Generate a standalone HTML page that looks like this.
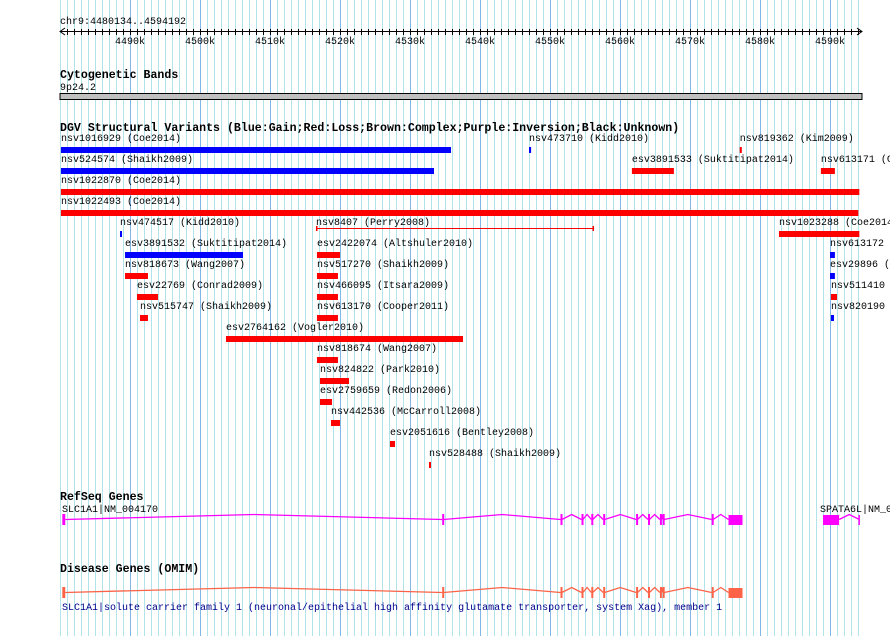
<!DOCTYPE html>
<html><head><meta charset="utf-8"><style>
html,body{margin:0;padding:0;background:#fff;width:890px;height:636px;overflow:hidden}
svg{display:block}
text{font-family:"Liberation Mono",monospace;font-size:10px;fill:#000}
.ttl{font-weight:bold;font-size:11.6px}
</style></head><body>
<svg id="c" width="890" height="636" xmlns="http://www.w3.org/2000/svg"></svg>
<script>
const viewStart = 4480.134, viewEnd = 4594.192;
const tickLabels = ["4490k","4500k","4510k","4520k","4530k","4540k","4550k","4560k","4570k","4580k","4590k"];
const tickValues = [4490,4500,4510,4520,4530,4540,4550,4560,4570,4580,4590];
const svNames = ["nsv1016929","nsv473710","nsv819362","nsv524574","esv3891533","nsv613171","nsv1022870","nsv1022493","nsv474517","nsv8407","nsv1023288","esv3891532","esv2422074","nsv613172","nsv818673","nsv517270","esv29896","esv22769","nsv466095","nsv511410","nsv515747","nsv613170","nsv820190","esv2764162","nsv818674","nsv824822","esv2759659","nsv442536","esv2051616","nsv528488"];
const svStudies = ["Coe2014","Kidd2010","Kim2009","Shaikh2009","Suktitipat2014","Cooper2011","Coe2014","Coe2014","Kidd2010","Perry2008","Coe2014","Suktitipat2014","Altshuler2010","Cooper2011","Wang2007","Shaikh2009","Conrad2009","Conrad2009","Itsara2009","Shaikh2009","Shaikh2009","Cooper2011","Wang2007","Vogler2010","Wang2007","Park2010","Redon2006","McCarroll2008","Bentley2008","Shaikh2009"];
const svStart = [4480.134,4547.0,4577.1,4480.134,4561.7,4588.7,4480.134,4480.134,4488.57,4516.57,4582.71,4489.29,4516.71,4590.0,4489.29,4516.71,4590.0,4491.0,4516.71,4590.14,4491.43,4516.71,4590.14,4503.71,4516.71,4517.14,4517.14,4518.71,4527.14,4532.71];
const svEnd = [4535.86,4547.3,4577.4,4533.43,4567.7,4590.7,4594.192,4594.05,4588.86-100,4556.29,4594.192,4506.14,4520.0,4590.7,4492.57,4519.71,4590.7,4494.0,4519.71,4591.0,4492.57,4519.71,4590.57,4537.57,4519.71,4521.29,4518.86,4520.0,4527.86,4533.0];
svEnd[8] = 4488.86;
const svType = ["gain","gain","loss","gain","loss","loss","loss","loss","gain","lossline","loss","gain","loss","gain","loss","loss","gain","loss","loss","loss","loss","loss","gain","loss","loss","loss","loss","loss","loss","loss"];
const svRow = [0,0,0,1,1,1,2,3,4,4,4,5,5,5,6,6,6,7,7,7,8,8,8,9,10,11,12,13,14,15];
const exonStarts = [4480.33,4534.6,4551.5,4554.5,4555.9,4557.6,4562.3,4564.0,4565.7,4566.1,4573.1,4575.5];
const exonEnds   = [4480.75,4534.8,4551.7,4554.7,4556.1,4557.8,4562.5,4564.2,4565.9,4566.3,4573.3,4577.5];
const gene2Starts = [4589.0];
const gene2Ends = [4591.3];
const gene2End = 4594.2;

const X = kb => 130 + (kb - 4490) * 7;
const svg = document.getElementById('c');
const NS = "http://www.w3.org/2000/svg";
function mk(tag, attrs, parent){const e=document.createElementNS(NS,tag);for(const k in attrs)e.setAttribute(k,attrs[k]);(parent||svg).appendChild(e);return e;}
function txt(s,x,y,cls,fill){const t=mk('text',{x:x,y:y});if(cls)t.setAttribute('class',cls);if(fill)t.setAttribute('fill',fill),t.style.fill=fill;t.textContent=s;return t;}

// grid
const grid = mk('g',{});


for(let k=Math.ceil(viewStart); k<=Math.floor(viewEnd); k++){
  const major = k%10===0;
  const l = mk('line',{x1:X(k)+0.5,x2:X(k)+0.5,y1:0,y2:636,stroke:major?'#7fb8e6':'#b0e4ea','stroke-width':1},grid);
  
  
}
mk('line',{x1:60.5,x2:60.5,y1:0,y2:636,stroke:'#b0e4ea'},grid);

// ruler
const rg = mk('g',{});


const pos = txt('chr9:4480134..4594192',60,24);


mk('line',{x1:60,x2:862,y1:31.5,y2:31.5,stroke:'#000'},rg);
mk('polyline',{points:'65,28 60,31.5 65,35',fill:'none',stroke:'#000'},rg);
mk('polyline',{points:'857,28 862,31.5 857,35',fill:'none',stroke:'#000'},rg);
for(let k=Math.ceil(viewStart); k<=Math.floor(viewEnd); k++){
  mk('line',{x1:X(k)+0.5,x2:X(k)+0.5,y1:29,y2:35,stroke:'#000'},rg);
}
tickValues.forEach((v,i)=>{
  const t = txt(tickLabels[i],X(v)-15,44);
  
  
});

// cytoband
const ct = txt('Cytogenetic Bands',60,78,'ttl');


txt('9p24.2',60,90);
const band = mk('rect',{x:60,y:93.5,width:802,height:6,fill:'#c0c0c0',stroke:'#000'});



// DGV
const dt = txt('DGV Structural Variants (Blue:Gain;Red:Loss;Brown:Complex;Purple:Inversion;Black:Unknown)',60,131,'ttl');


svNames.forEach((n,i)=>{
  const y0 = 141 + svRow[i]*21;
  const x1 = X(svStart[i]), x2 = X(svEnd[i]);
  const lab = txt(n+' ('+svStudies[i]+')', Math.max(60,x1), y0);
  
  
  let m;
  if(svType[i]==='lossline'){
    m = mk('g',{});
    mk('line',{x1:x1,x2:x2,y1:y0+3.5,y2:y0+3.5,stroke:'#f00'},m);
    mk('rect',{x:x1,y:y0+1,width:1.5,height:5,fill:'#f00'},m);
    mk('rect',{x:x2-1.5,y:y0+1,width:1.5,height:5,fill:'#f00'},m);
  } else {
    m = mk('rect',{x:x1,y:y0+6,width:Math.max(2,x2-x1),height:6,fill:svType[i]==='gain'?'#0000ff':'#ff0000'});
  }
  
  
});

// gene drawing
function drawGene(starts, ends, y, color, endX, name){
  const g = mk('g',{});
  
  
  for(let i=0;i<starts.length;i++){
    const a = X(starts[i]), b = X(ends[i]);
    const big = (b-a)>6;
    mk('rect',{x:a,y:big?y-4:y-5,width:Math.max(2,b-a),height:big?10:11,fill:color},g);
    if(i<starts.length-1){
      const n = X(starts[i+1]); const mid=(b+n)/2;
      mk('polyline',{points:`${b},${y+0.5} ${mid},${y-4.5} ${n},${y+0.5}`,fill:'none',stroke:color,'stroke-width':1.3},g);
    }
  }
  if(endX){
    const b = X(ends[ends.length-1]); const n = X(endX); const mid=(b+n)/2;
    mk('polyline',{points:`${b},${y+0.5} ${mid},${y-4.5} ${n},${y+0.5}`,fill:'none',stroke:color,'stroke-width':1.3},g);
    mk('rect',{x:n-1,y:y-4,width:1.5,height:10,fill:color},g);
  }
  return g;
}
const rt = txt('RefSeq Genes',60,500,'ttl');


txt('SLC1A1|NM_004170',62,512);
drawGene(exonStarts,exonEnds,519,'#ff00ff',null,'gene-SLC1A1');
txt('SPATA6L|NM_0',820,512);
drawGene(gene2Starts,gene2Ends,519,'#ff00ff',gene2End,'gene-SPATA6L');

const ot = txt('Disease Genes (OMIM)',60,572,'ttl');


drawGene(exonStarts,exonEnds,592,'#ff6347',null,'omim-SLC1A1');
const od = txt('SLC1A1|solute carrier family 1 (neuronal/epithelial high affinity glutamate transporter, system Xag), member 1',62,610,null,'#00008b');


</script>
</body></html>
